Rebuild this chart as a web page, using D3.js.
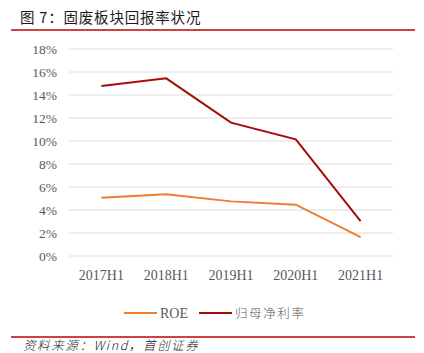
<!DOCTYPE html>
<html lang="zh">
<head>
  <meta charset="UTF-8">
  <title>固废板块回报率状况</title>
  <script src="https://d3js.org/d3.v7.min.js"></script>
  <style>
    body { margin: 0; background: #fff; }
    svg { display: block; }
    .tick text { font-family: "Liberation Serif", serif; fill: #595959; }
  </style>
</head>
<body>
  <svg id="chart" width="424" height="353"></svg>
  <script>
    // data
    const periods = ["2017H1", "2018H1", "2019H1", "2020H1", "2021H1"];
    const roe = [5.07, 5.36, 4.75, 4.46, 1.65];
    const netMargin = [14.78, 15.45, 11.6, 10.15, 3.04];
    const yTicks = [0, 2, 4, 6, 8, 10, 12, 14, 16, 18];

    const svg = d3.select("#chart");
    const margin = { left: 69, right: 31, top: 49, bottom: 97 };
    const W = 424, H = 353;

    const x = d3.scaleBand().domain(periods).range([margin.left, W - margin.right]);
    const y = d3.scaleLinear().domain([0, 18]).range([H - margin.bottom, margin.top]);

    // title
    svg.append("text")
      .attr("x", 20).attr("y", 23)
      .attr("font-family", "'Noto Sans CJK SC', sans-serif")
      .attr("font-size", 14.5)
      .attr("letter-spacing", 0.8)
      .attr("fill", "#1a1a1a")
      .text("图\u00a07：固废板块回报率状况");
    svg.append("line")
      .attr("x1", 11).attr("x2", 415).attr("y1", 30).attr("y2", 30)
      .attr("stroke", "#c00000").attr("stroke-width", 1.3);

    // grid
    svg.append("g").selectAll("line")
      .data(yTicks).enter().append("line")
      .attr("x1", margin.left).attr("x2", W - margin.right)
      .attr("y1", d => y(d)).attr("y2", d => y(d))
      .attr("stroke", "#dcdcdc").attr("stroke-width", 1);

    // y axis
    const yAxis = svg.append("g")
      .attr("transform", `translate(${margin.left - 12},0)`)
      .call(d3.axisLeft(y).tickValues(yTicks).tickFormat(d => d + "%").tickSize(0).tickPadding(0));
    yAxis.select(".domain").remove();
    yAxis.selectAll(".tick text").attr("font-size", 13.5);

    // x axis
    const xAxis = svg.append("g")
      .attr("transform", `translate(0,${H - margin.bottom + 8})`)
      .call(d3.axisBottom(x).tickSize(0).tickPadding(6));
    xAxis.select(".domain").remove();
    xAxis.selectAll(".tick text").attr("font-size", 14);

    const line = d3.line()
      .x((d, i) => x(periods[i]) + x.bandwidth() / 2)
      .y(d => y(d));

    svg.append("path").datum(roe)
      .attr("d", line).attr("fill", "none")
      .attr("stroke", "#ed7d31").attr("stroke-width", 2);
    svg.append("path").datum(netMargin)
      .attr("d", line).attr("fill", "none")
      .attr("stroke", "#a50b0b").attr("stroke-width", 2);

    // legend
    const legend = [
      { name: "ROE", color: "#ed7d31", x: 124, font: "'Liberation Serif', serif", size: 14, ls: 0 },
      { name: "归母净利率", color: "#a50b0b", x: 199, font: "'Noto Sans CJK SC', sans-serif", size: 12.5, ls: 1.6 }
    ];
    const lg = svg.append("g").selectAll("g").data(legend).enter().append("g");
    lg.append("line")
      .attr("x1", d => d.x).attr("x2", d => d.x + 33)
      .attr("y1", 313).attr("y2", 313)
      .attr("stroke", d => d.color).attr("stroke-width", 2);
    lg.append("text")
      .attr("x", d => d.x + 36).attr("y", 318)
      .attr("font-family", d => d.font)
      .attr("font-size", d => d.size)
      .attr("letter-spacing", d => d.ls)
      .attr("font-weight", 300)
      .attr("fill", "#595959")
      .text(d => d.name);

    // source
    svg.append("line")
      .attr("x1", 11).attr("x2", 415).attr("y1", 337).attr("y2", 337)
      .attr("stroke", "#c00000").attr("stroke-width", 1.3);
    svg.append("text")
      .attr("x", 23).attr("y", 350)
      .attr("font-family", "'Noto Sans CJK SC', sans-serif")
      .attr("font-style", "italic")
      .attr("font-size", 12.5)
      .attr("letter-spacing", 1.6)
      .attr("font-weight", 300)
      .attr("fill", "#1a1a1a")
      .text("资料来源：Wind，首创证券");
  </script>
</body>
</html>
